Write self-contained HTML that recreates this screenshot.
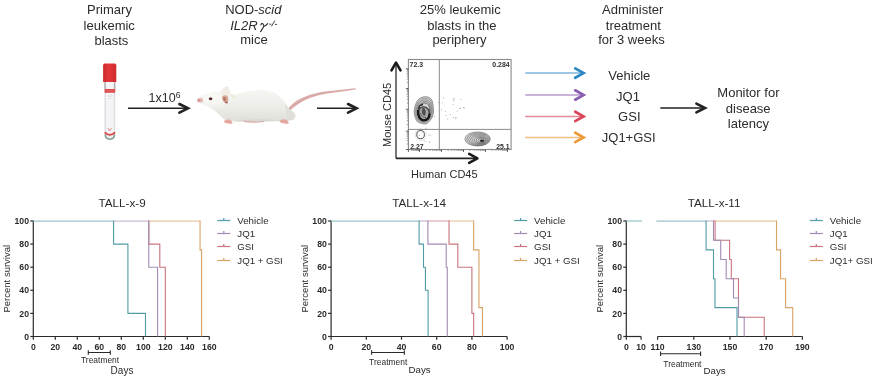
<!DOCTYPE html>
<html><head><meta charset="utf-8"><style>
html,body{margin:0;padding:0;background:#fff;}
svg{display:block;will-change:transform;}
text{font-family:"Liberation Sans",sans-serif;fill:#2b2b2b;}
</style></head><body>
<svg width="875" height="378" viewBox="0 0 875 378">
<rect width="875" height="378" fill="#fff"/>
<text x="109.5" y="14.3" font-size="13" text-anchor="middle" >Primary</text>
<text x="109.2" y="30.0" font-size="13" text-anchor="middle" >leukemic</text>
<text x="111.4" y="44.6" font-size="13" text-anchor="middle" >blasts</text>
<text x="460.3" y="14.0" font-size="13" text-anchor="middle" >25% leukemic</text>
<text x="461.9" y="29.6" font-size="13" text-anchor="middle" >blasts in the</text>
<text x="459.5" y="43.8" font-size="13" text-anchor="middle" >periphery</text>
<text x="632.7" y="14.3" font-size="13" text-anchor="middle" >Administer</text>
<text x="633.3" y="29.8" font-size="13" text-anchor="middle" >treatment</text>
<text x="631.5" y="44.3" font-size="13" text-anchor="middle" >for 3 weeks</text>
<text x="629.3" y="80.2" font-size="13" text-anchor="middle" >Vehicle</text>
<text x="628" y="101" font-size="13" text-anchor="middle" >JQ1</text>
<text x="629.3" y="121.4" font-size="13" text-anchor="middle" >GSI</text>
<text x="628.7" y="141.7" font-size="13" text-anchor="middle" >JQ1+GSI</text>
<text x="748.4" y="97.0" font-size="13" text-anchor="middle" >Monitor for</text>
<text x="748.2" y="112.6" font-size="13" text-anchor="middle" >disease</text>
<text x="748.4" y="128.0" font-size="13" text-anchor="middle" >latency</text>
<text x="253.3" y="14.3" font-size="13" text-anchor="middle" >NOD-<tspan font-style="italic">scid</tspan></text>
<text x="230.2" y="29.8" font-size="13" text-anchor="start" font-style="italic">IL2R</text>
<path d="M260.9,24.9 C261.5,22.8 263.2,23.0 263.7,25.4 C264.0,26.6 265.0,26.3 267.7,23.6 M264.0,25.9 C262.9,28.0 261.6,30.0 260.6,31.6" fill="none" stroke="#2b2b2b" stroke-width="1.15" stroke-linecap="round"/>
<path d="M269.3,24.2 H271.3 M271.5,26.3 L274.9,20.6 M275.0,24.4 H277.0" fill="none" stroke="#2b2b2b" stroke-width="0.9"/>
<text x="254" y="44.3" font-size="13" text-anchor="middle" >mice</text>
<text x="148.6" y="101.8" font-size="12.5" text-anchor="start" >1x10<tspan font-size="8.6" dy="-4.2">6</tspan></text>
<line x1="128" y1="108.3" x2="187.0" y2="108.3" stroke="#222" stroke-width="1.6"/>
<polyline points="179.4,104.0 188.0,108.3 179.4,112.6" fill="none" stroke="#222" stroke-width="2.6" stroke-linecap="round" stroke-linejoin="miter"/>
<line x1="317" y1="108.3" x2="355.6" y2="108.3" stroke="#222" stroke-width="1.6"/>
<polyline points="348.0,104.0 356.6,108.3 348.0,112.6" fill="none" stroke="#222" stroke-width="2.6" stroke-linecap="round" stroke-linejoin="miter"/>
<line x1="660.3" y1="108" x2="704.0" y2="108" stroke="#222" stroke-width="1.6"/>
<polyline points="696.4,103.7 705.0,108 696.4,112.3" fill="none" stroke="#222" stroke-width="2.6" stroke-linecap="round" stroke-linejoin="miter"/>
<line x1="525.2" y1="73.1" x2="582.6" y2="73.1" stroke="#7fb5da" stroke-width="1.5"/>
<polyline points="575.2,68.39999999999999 583.6,73.1 575.2,77.8" fill="none" stroke="#2b88c4" stroke-width="2.7" stroke-linecap="round" stroke-linejoin="miter"/>
<line x1="525.2" y1="95" x2="582.6" y2="95" stroke="#b79ccf" stroke-width="1.5"/>
<polyline points="575.2,90.3 583.6,95 575.2,99.7" fill="none" stroke="#8a5db0" stroke-width="2.7" stroke-linecap="round" stroke-linejoin="miter"/>
<line x1="525.2" y1="116.4" x2="582.6" y2="116.4" stroke="#e28a96" stroke-width="1.5"/>
<polyline points="575.2,111.7 583.6,116.4 575.2,121.10000000000001" fill="none" stroke="#d9455a" stroke-width="2.7" stroke-linecap="round" stroke-linejoin="miter"/>
<line x1="525.2" y1="137.4" x2="582.6" y2="137.4" stroke="#f2bf86" stroke-width="1.5"/>
<polyline points="575.2,132.70000000000002 583.6,137.4 575.2,142.1" fill="none" stroke="#ef9a3a" stroke-width="2.7" stroke-linecap="round" stroke-linejoin="miter"/>
<text x="122.1" y="207.0" font-size="11.7" text-anchor="middle" >TALL-x-9</text>
<line x1="33.3" y1="220.5" x2="33.3" y2="337.0" stroke="#2a2a2a" stroke-width="1.2"/>
<line x1="30.299999999999997" y1="336.5" x2="33.3" y2="336.5" stroke="#2a2a2a" stroke-width="1.2"/>
<text x="28.999999999999996" y="339.6" font-size="8.7" text-anchor="end" font-weight="bold">0</text>
<line x1="30.299999999999997" y1="313.4" x2="33.3" y2="313.4" stroke="#2a2a2a" stroke-width="1.2"/>
<text x="28.999999999999996" y="316.5" font-size="8.7" text-anchor="end" font-weight="bold">20</text>
<line x1="30.299999999999997" y1="290.3" x2="33.3" y2="290.3" stroke="#2a2a2a" stroke-width="1.2"/>
<text x="28.999999999999996" y="293.40000000000003" font-size="8.7" text-anchor="end" font-weight="bold">40</text>
<line x1="30.299999999999997" y1="267.2" x2="33.3" y2="267.2" stroke="#2a2a2a" stroke-width="1.2"/>
<text x="28.999999999999996" y="270.3" font-size="8.7" text-anchor="end" font-weight="bold">60</text>
<line x1="30.299999999999997" y1="244.1" x2="33.3" y2="244.1" stroke="#2a2a2a" stroke-width="1.2"/>
<text x="28.999999999999996" y="247.2" font-size="8.7" text-anchor="end" font-weight="bold">80</text>
<line x1="30.299999999999997" y1="221.0" x2="33.3" y2="221.0" stroke="#2a2a2a" stroke-width="1.2"/>
<text x="28.999999999999996" y="224.1" font-size="8.7" text-anchor="end" font-weight="bold">100</text>
<text x="0" y="0" font-size="9.5" text-anchor="middle" transform="translate(9.999999999999996,278.7) rotate(-90)">Percent survival</text>
<line x1="33.3" y1="336.5" x2="209.3" y2="336.5" stroke="#2a2a2a" stroke-width="1.2"/>
<line x1="33.3" y1="336.5" x2="33.3" y2="339.7" stroke="#2a2a2a" stroke-width="1.2"/>
<text x="33.3" y="349.8" font-size="8.7" text-anchor="middle" font-weight="bold">0</text>
<line x1="55.3" y1="336.5" x2="55.3" y2="339.7" stroke="#2a2a2a" stroke-width="1.2"/>
<text x="55.3" y="349.8" font-size="8.7" text-anchor="middle" font-weight="bold">20</text>
<line x1="77.3" y1="336.5" x2="77.3" y2="339.7" stroke="#2a2a2a" stroke-width="1.2"/>
<text x="77.3" y="349.8" font-size="8.7" text-anchor="middle" font-weight="bold">40</text>
<line x1="99.3" y1="336.5" x2="99.3" y2="339.7" stroke="#2a2a2a" stroke-width="1.2"/>
<text x="99.3" y="349.8" font-size="8.7" text-anchor="middle" font-weight="bold">60</text>
<line x1="121.3" y1="336.5" x2="121.3" y2="339.7" stroke="#2a2a2a" stroke-width="1.2"/>
<text x="121.3" y="349.8" font-size="8.7" text-anchor="middle" font-weight="bold">80</text>
<line x1="143.3" y1="336.5" x2="143.3" y2="339.7" stroke="#2a2a2a" stroke-width="1.2"/>
<text x="143.3" y="349.8" font-size="8.7" text-anchor="middle" font-weight="bold">100</text>
<line x1="165.3" y1="336.5" x2="165.3" y2="339.7" stroke="#2a2a2a" stroke-width="1.2"/>
<text x="165.3" y="349.8" font-size="8.7" text-anchor="middle" font-weight="bold">120</text>
<line x1="187.3" y1="336.5" x2="187.3" y2="339.7" stroke="#2a2a2a" stroke-width="1.2"/>
<text x="187.3" y="349.8" font-size="8.7" text-anchor="middle" font-weight="bold">140</text>
<line x1="209.3" y1="336.5" x2="209.3" y2="339.7" stroke="#2a2a2a" stroke-width="1.2"/>
<text x="209.3" y="349.8" font-size="8.7" text-anchor="middle" font-weight="bold">160</text>
<line x1="148.80" y1="221.0" x2="200.06" y2="221.0" stroke="#e8c9a5" stroke-width="1.25"/>
<path d="M200.06,220.54 L200.06,249.88 L201.60,249.88 L201.60,336.50" fill="none" stroke="#d9a365" stroke-width="1.1" stroke-linejoin="miter"/>
<line x1="148.80" y1="221.0" x2="148.80" y2="221.0" stroke="#dfaeb3" stroke-width="1.25"/>
<path d="M148.80,220.54 L148.80,244.10 L159.80,244.10 L159.80,267.20 L165.30,267.20 L165.30,336.50" fill="none" stroke="#c9747d" stroke-width="1.1" stroke-linejoin="miter"/>
<line x1="113.60" y1="221.0" x2="148.80" y2="221.0" stroke="#c9bbd2" stroke-width="1.25"/>
<path d="M148.80,220.54 L148.80,267.20 L157.60,267.20 L157.60,336.50" fill="none" stroke="#a28bb2" stroke-width="1.1" stroke-linejoin="miter"/>
<line x1="33.30" y1="221.0" x2="113.60" y2="221.0" stroke="#9ac5cb" stroke-width="1.25"/>
<path d="M113.60,220.54 L113.60,244.10 L127.90,244.10 L127.90,313.40 L145.50,313.40 L145.50,336.50" fill="none" stroke="#519ca6" stroke-width="1.1" stroke-linejoin="miter"/>
<line x1="217.3" y1="220.5" x2="230.3" y2="220.5" stroke="#519ca6" stroke-width="1.2"/>
<line x1="223.8" y1="217.9" x2="223.8" y2="220.5" stroke="#519ca6" stroke-width="1.2"/>
<text x="237.3" y="223.6" font-size="9.7" text-anchor="start" >Vehicle</text>
<line x1="217.3" y1="233.5" x2="230.3" y2="233.5" stroke="#a28bb2" stroke-width="1.2"/>
<line x1="223.8" y1="230.9" x2="223.8" y2="233.5" stroke="#a28bb2" stroke-width="1.2"/>
<text x="237.3" y="236.95" font-size="9.7" text-anchor="start" >JQ1</text>
<line x1="217.3" y1="246.5" x2="230.3" y2="246.5" stroke="#c9747d" stroke-width="1.2"/>
<line x1="223.8" y1="243.9" x2="223.8" y2="246.5" stroke="#c9747d" stroke-width="1.2"/>
<text x="237.3" y="250.29999999999998" font-size="9.7" text-anchor="start" >GSI</text>
<line x1="217.3" y1="260.5" x2="230.3" y2="260.5" stroke="#d9a365" stroke-width="1.2"/>
<line x1="223.8" y1="257.9" x2="223.8" y2="260.5" stroke="#d9a365" stroke-width="1.2"/>
<text x="237.3" y="263.65" font-size="9.7" text-anchor="start" >JQ1 + GSI</text>
<path d="M88.30000000000001,350.2 V354.8 M88.30000000000001,352.5 H110.3 M110.3,350.2 V354.8" fill="none" stroke="#2a2a2a" stroke-width="1.1"/>
<text x="81" y="362.9" font-size="8.45" text-anchor="start" >Treatment</text>
<text x="110.6" y="373.5" font-size="10" text-anchor="start" >Days</text>
<text x="419.1" y="207.0" font-size="11.7" text-anchor="middle" >TALL-x-14</text>
<line x1="331.1" y1="220.5" x2="331.1" y2="337.0" stroke="#2a2a2a" stroke-width="1.2"/>
<line x1="328.1" y1="336.5" x2="331.1" y2="336.5" stroke="#2a2a2a" stroke-width="1.2"/>
<text x="326.8" y="339.6" font-size="8.7" text-anchor="end" font-weight="bold">0</text>
<line x1="328.1" y1="313.4" x2="331.1" y2="313.4" stroke="#2a2a2a" stroke-width="1.2"/>
<text x="326.8" y="316.5" font-size="8.7" text-anchor="end" font-weight="bold">20</text>
<line x1="328.1" y1="290.3" x2="331.1" y2="290.3" stroke="#2a2a2a" stroke-width="1.2"/>
<text x="326.8" y="293.40000000000003" font-size="8.7" text-anchor="end" font-weight="bold">40</text>
<line x1="328.1" y1="267.2" x2="331.1" y2="267.2" stroke="#2a2a2a" stroke-width="1.2"/>
<text x="326.8" y="270.3" font-size="8.7" text-anchor="end" font-weight="bold">60</text>
<line x1="328.1" y1="244.1" x2="331.1" y2="244.1" stroke="#2a2a2a" stroke-width="1.2"/>
<text x="326.8" y="247.2" font-size="8.7" text-anchor="end" font-weight="bold">80</text>
<line x1="328.1" y1="221.0" x2="331.1" y2="221.0" stroke="#2a2a2a" stroke-width="1.2"/>
<text x="326.8" y="224.1" font-size="8.7" text-anchor="end" font-weight="bold">100</text>
<text x="0" y="0" font-size="9.5" text-anchor="middle" transform="translate(307.8,278.7) rotate(-90)">Percent survival</text>
<line x1="331.1" y1="336.5" x2="507.1" y2="336.5" stroke="#2a2a2a" stroke-width="1.2"/>
<line x1="331.1" y1="336.5" x2="331.1" y2="339.7" stroke="#2a2a2a" stroke-width="1.2"/>
<text x="331.1" y="349.8" font-size="8.7" text-anchor="middle" font-weight="bold">0</text>
<line x1="366.3" y1="336.5" x2="366.3" y2="339.7" stroke="#2a2a2a" stroke-width="1.2"/>
<text x="366.3" y="349.8" font-size="8.7" text-anchor="middle" font-weight="bold">20</text>
<line x1="401.5" y1="336.5" x2="401.5" y2="339.7" stroke="#2a2a2a" stroke-width="1.2"/>
<text x="401.5" y="349.8" font-size="8.7" text-anchor="middle" font-weight="bold">40</text>
<line x1="436.70000000000005" y1="336.5" x2="436.70000000000005" y2="339.7" stroke="#2a2a2a" stroke-width="1.2"/>
<text x="436.70000000000005" y="349.8" font-size="8.7" text-anchor="middle" font-weight="bold">60</text>
<line x1="471.90000000000003" y1="336.5" x2="471.90000000000003" y2="339.7" stroke="#2a2a2a" stroke-width="1.2"/>
<text x="471.90000000000003" y="349.8" font-size="8.7" text-anchor="middle" font-weight="bold">80</text>
<line x1="507.1" y1="336.5" x2="507.1" y2="339.7" stroke="#2a2a2a" stroke-width="1.2"/>
<text x="507.1" y="349.8" font-size="8.7" text-anchor="middle" font-weight="bold">100</text>
<line x1="449.02" y1="221.0" x2="473.66" y2="221.0" stroke="#e8c9a5" stroke-width="1.25"/>
<path d="M473.66,220.54 L473.66,249.88 L478.94,249.88 L478.94,307.62 L482.46,307.62 L482.46,336.50" fill="none" stroke="#d9a365" stroke-width="1.1" stroke-linejoin="miter"/>
<line x1="427.90" y1="221.0" x2="449.02" y2="221.0" stroke="#dfaeb3" stroke-width="1.25"/>
<path d="M449.02,220.54 L449.02,244.10 L457.82,244.10 L457.82,267.20 L471.90,267.20 L471.90,313.40 L473.66,313.40 L473.66,336.50" fill="none" stroke="#c9747d" stroke-width="1.1" stroke-linejoin="miter"/>
<line x1="419.10" y1="221.0" x2="427.90" y2="221.0" stroke="#c9bbd2" stroke-width="1.25"/>
<path d="M427.90,220.54 L427.90,244.10 L446.20,244.10 L446.20,267.20 L447.26,267.20 L447.26,336.50" fill="none" stroke="#a28bb2" stroke-width="1.1" stroke-linejoin="miter"/>
<line x1="331.10" y1="221.0" x2="419.10" y2="221.0" stroke="#9ac5cb" stroke-width="1.25"/>
<path d="M419.10,220.54 L419.10,244.10 L423.50,244.10 L423.50,267.20 L425.44,267.20 L425.44,290.30 L428.08,290.30 L428.08,336.50" fill="none" stroke="#519ca6" stroke-width="1.1" stroke-linejoin="miter"/>
<line x1="514.1" y1="220.5" x2="527.1" y2="220.5" stroke="#519ca6" stroke-width="1.2"/>
<line x1="520.6" y1="217.9" x2="520.6" y2="220.5" stroke="#519ca6" stroke-width="1.2"/>
<text x="534.1" y="223.6" font-size="9.7" text-anchor="start" >Vehicle</text>
<line x1="514.1" y1="233.5" x2="527.1" y2="233.5" stroke="#a28bb2" stroke-width="1.2"/>
<line x1="520.6" y1="230.9" x2="520.6" y2="233.5" stroke="#a28bb2" stroke-width="1.2"/>
<text x="534.1" y="236.95" font-size="9.7" text-anchor="start" >JQ1</text>
<line x1="514.1" y1="246.5" x2="527.1" y2="246.5" stroke="#c9747d" stroke-width="1.2"/>
<line x1="520.6" y1="243.9" x2="520.6" y2="246.5" stroke="#c9747d" stroke-width="1.2"/>
<text x="534.1" y="250.29999999999998" font-size="9.7" text-anchor="start" >GSI</text>
<line x1="514.1" y1="260.5" x2="527.1" y2="260.5" stroke="#d9a365" stroke-width="1.2"/>
<line x1="520.6" y1="257.9" x2="520.6" y2="260.5" stroke="#d9a365" stroke-width="1.2"/>
<text x="534.1" y="263.65" font-size="9.7" text-anchor="start" >JQ1 + GSI</text>
<path d="M371.58000000000004,350.2 V354.8 M371.58000000000004,352.5 H404.31600000000003 M404.31600000000003,350.2 V354.8" fill="none" stroke="#2a2a2a" stroke-width="1.1"/>
<text x="369.1" y="364.6" font-size="8.45" text-anchor="start" >Treatment</text>
<text x="408.5" y="373.3" font-size="9.7" text-anchor="start" >Days</text>
<text x="714.1" y="207.0" font-size="11.7" text-anchor="middle" >TALL-x-11</text>
<line x1="626.3" y1="220.5" x2="626.3" y2="337.0" stroke="#2a2a2a" stroke-width="1.2"/>
<line x1="623.3" y1="336.5" x2="626.3" y2="336.5" stroke="#2a2a2a" stroke-width="1.2"/>
<text x="622.0" y="339.6" font-size="8.7" text-anchor="end" font-weight="bold">0</text>
<line x1="623.3" y1="313.4" x2="626.3" y2="313.4" stroke="#2a2a2a" stroke-width="1.2"/>
<text x="622.0" y="316.5" font-size="8.7" text-anchor="end" font-weight="bold">20</text>
<line x1="623.3" y1="290.3" x2="626.3" y2="290.3" stroke="#2a2a2a" stroke-width="1.2"/>
<text x="622.0" y="293.40000000000003" font-size="8.7" text-anchor="end" font-weight="bold">40</text>
<line x1="623.3" y1="267.2" x2="626.3" y2="267.2" stroke="#2a2a2a" stroke-width="1.2"/>
<text x="622.0" y="270.3" font-size="8.7" text-anchor="end" font-weight="bold">60</text>
<line x1="623.3" y1="244.1" x2="626.3" y2="244.1" stroke="#2a2a2a" stroke-width="1.2"/>
<text x="622.0" y="247.2" font-size="8.7" text-anchor="end" font-weight="bold">80</text>
<line x1="623.3" y1="221.0" x2="626.3" y2="221.0" stroke="#2a2a2a" stroke-width="1.2"/>
<text x="622.0" y="224.1" font-size="8.7" text-anchor="end" font-weight="bold">100</text>
<text x="0" y="0" font-size="9.5" text-anchor="middle" transform="translate(603.0,278.7) rotate(-90)">Percent survival</text>
<line x1="626.3" y1="336.5" x2="641.1" y2="336.5" stroke="#2a2a2a" stroke-width="1.2"/>
<line x1="657.6" y1="336.5" x2="802.4" y2="336.5" stroke="#2a2a2a" stroke-width="1.2"/>
<line x1="626.3" y1="336.5" x2="626.3" y2="339.7" stroke="#2a2a2a" stroke-width="1.2"/>
<text x="626.3" y="349.8" font-size="8.7" text-anchor="middle" font-weight="bold">0</text>
<line x1="641.1" y1="336.5" x2="641.1" y2="339.7" stroke="#2a2a2a" stroke-width="1.2"/>
<text x="641.1" y="349.8" font-size="8.7" text-anchor="middle" font-weight="bold">10</text>
<line x1="657.6" y1="336.5" x2="657.6" y2="339.7" stroke="#2a2a2a" stroke-width="1.2"/>
<text x="657.6" y="349.8" font-size="8.7" text-anchor="middle" font-weight="bold">110</text>
<line x1="693.8" y1="336.5" x2="693.8" y2="339.7" stroke="#2a2a2a" stroke-width="1.2"/>
<text x="693.8" y="349.8" font-size="8.7" text-anchor="middle" font-weight="bold">130</text>
<line x1="730" y1="336.5" x2="730" y2="339.7" stroke="#2a2a2a" stroke-width="1.2"/>
<text x="730" y="349.8" font-size="8.7" text-anchor="middle" font-weight="bold">150</text>
<line x1="766.2" y1="336.5" x2="766.2" y2="339.7" stroke="#2a2a2a" stroke-width="1.2"/>
<text x="766.2" y="349.8" font-size="8.7" text-anchor="middle" font-weight="bold">170</text>
<line x1="802.4" y1="336.5" x2="802.4" y2="339.7" stroke="#2a2a2a" stroke-width="1.2"/>
<text x="802.4" y="349.8" font-size="8.7" text-anchor="middle" font-weight="bold">190</text>
<line x1="715.10" y1="221.0" x2="776.50" y2="221.0" stroke="#e8c9a5" stroke-width="1.25"/>
<path d="M776.50,220.54 L776.50,249.88 L780.60,249.88 L780.60,278.75 L785.60,278.75 L785.60,307.62 L792.70,307.62 L792.70,336.50" fill="none" stroke="#d9a365" stroke-width="1.1" stroke-linejoin="miter"/>
<line x1="713.50" y1="221.0" x2="715.10" y2="221.0" stroke="#dfaeb3" stroke-width="1.25"/>
<path d="M715.10,220.54 L715.10,240.25 L729.60,240.25 L729.60,259.50 L731.30,259.50 L731.30,278.75 L738.50,278.75 L738.50,317.25 L764.20,317.25 L764.20,336.50" fill="none" stroke="#c9747d" stroke-width="1.1" stroke-linejoin="miter"/>
<line x1="706.10" y1="221.0" x2="713.50" y2="221.0" stroke="#c9bbd2" stroke-width="1.25"/>
<path d="M713.50,220.54 L713.50,240.25 L720.70,240.25 L720.70,259.50 L726.20,259.50 L726.20,278.75 L733.50,278.75 L733.50,298.00 L738.50,298.00 L738.50,317.25 L744.20,317.25 L744.20,336.50" fill="none" stroke="#a28bb2" stroke-width="1.1" stroke-linejoin="miter"/>
<line x1="656.40" y1="221.0" x2="706.10" y2="221.0" stroke="#9ac5cb" stroke-width="1.25"/>
<path d="M706.10,220.54 L706.10,249.88 L713.50,249.88 L713.50,278.75 L715.00,278.75 L715.00,307.62 L737.00,307.62 L737.00,336.50" fill="none" stroke="#519ca6" stroke-width="1.1" stroke-linejoin="miter"/>
<line x1="626.30" y1="221.0" x2="642.10" y2="221.0" stroke="#9ac5cb" stroke-width="1.25"/>
<line x1="809.8" y1="220.5" x2="822.8" y2="220.5" stroke="#519ca6" stroke-width="1.2"/>
<line x1="816.3" y1="217.9" x2="816.3" y2="220.5" stroke="#519ca6" stroke-width="1.2"/>
<text x="829.8" y="223.6" font-size="9.7" text-anchor="start" >Vehicle</text>
<line x1="809.8" y1="233.5" x2="822.8" y2="233.5" stroke="#a28bb2" stroke-width="1.2"/>
<line x1="816.3" y1="230.9" x2="816.3" y2="233.5" stroke="#a28bb2" stroke-width="1.2"/>
<text x="829.8" y="236.95" font-size="9.7" text-anchor="start" >JQ1</text>
<line x1="809.8" y1="246.5" x2="822.8" y2="246.5" stroke="#c9747d" stroke-width="1.2"/>
<line x1="816.3" y1="243.9" x2="816.3" y2="246.5" stroke="#c9747d" stroke-width="1.2"/>
<text x="829.8" y="250.29999999999998" font-size="9.7" text-anchor="start" >GSI</text>
<line x1="809.8" y1="260.5" x2="822.8" y2="260.5" stroke="#d9a365" stroke-width="1.2"/>
<line x1="816.3" y1="257.9" x2="816.3" y2="260.5" stroke="#d9a365" stroke-width="1.2"/>
<text x="829.8" y="263.65" font-size="9.7" text-anchor="start" >JQ1+ GSI</text>
<path d="M660.6,351.5 V356.1 M660.6,353.8 H700.6 M700.6,351.5 V356.1" fill="none" stroke="#2a2a2a" stroke-width="1.1"/>
<text x="663.3" y="366.9" font-size="8.45" text-anchor="start" >Treatment</text>
<text x="703.5" y="373.5" font-size="9.7" text-anchor="start" >Days</text>
<defs>
<linearGradient id="capg" x1="0" x2="1" y1="0" y2="0"><stop offset="0" stop-color="#cc2a2e"/><stop offset="0.4" stop-color="#e2393b"/><stop offset="1" stop-color="#d02a2e"/></linearGradient>
<linearGradient id="bodyg" x1="0" x2="1" y1="0" y2="0"><stop offset="0" stop-color="#d2d0d6"/><stop offset="0.2" stop-color="#f6f5f8"/><stop offset="0.8" stop-color="#f3f2f5"/><stop offset="1" stop-color="#d6d4d9"/></linearGradient>
</defs>
<path d="M104.6,82 V135 Q104.6,139.6 109.9,139.6 Q115.2,139.6 115.2,135 V82 Z" fill="url(#bodyg)"/>
<path d="M105.2,134.5 Q105.4,139.2 109.9,139.2 Q114.4,139.2 114.6,134.5" fill="#e8ecea" stroke="#7f9c90" stroke-width="1.5"/>
<path d="M104.9,132.2 Q106,134.6 109.9,134.8 Q113.8,134.6 114.9,132.2" fill="none" stroke="#d9484a" stroke-width="1.7"/>
<line x1="105" y1="82" x2="105" y2="89" stroke="#888" stroke-width="0.8"/>
<line x1="114.8" y1="82" x2="114.8" y2="89" stroke="#888" stroke-width="0.8"/>
<rect x="104.6" y="89.1" width="10.6" height="3.6" fill="#dc3a3c"/>
<line x1="105" y1="90.9" x2="114.8" y2="90.9" stroke="#f0a8a8" stroke-width="0.5"/>
<path d="M108,128.2 L109.6,131 L111.4,128.2" fill="none" stroke="#e07a7a" stroke-width="0.9"/>
<line x1="108" y1="96" x2="112" y2="96" stroke="#bbb" stroke-width="0.5"/>
<line x1="108.5" y1="98.5" x2="111" y2="98.5" stroke="#bbb" stroke-width="0.5"/>
<path d="M103.1,81.9 V65.2 Q103.1,63.6 104.8,63.6 H114.6 Q116.3,63.6 116.3,65.2 V81.9 Z" fill="url(#capg)"/>
<defs>
<linearGradient id="mbody" x1="0" x2="0" y1="0" y2="1"><stop offset="0" stop-color="#f7f7f4"/><stop offset="0.5" stop-color="#efefeb"/><stop offset="1" stop-color="#dfdfda"/></linearGradient>
<radialGradient id="mhead" cx="0.3" cy="0.35" r="0.6"><stop offset="0" stop-color="#fafaf7"/><stop offset="1" stop-color="#fafaf7" stop-opacity="0"/></radialGradient>
</defs>
<path d="M286.5,110.5 C291,104.5 296,100.5 301.5,98.2 C307,95.8 312,93.9 317,92.9 C323,91.8 328,91.2 333,90.8 C340,90 348,89 355.5,88.3 C356.2,88.6 355.8,89.2 355,89.4 C347,90.6 340,91.8 333,92.8 C327,93.6 322,94.4 317.5,95.6 C311,97.5 306,99.6 302,101.8 C297,104.6 292,108.5 288.5,112 Z" fill="#d9aaa8"/>
<path d="M197.4,100.2 C199,96.5 203,94.5 207,93.8 C212,92.6 216,91.6 220.6,91.2 C222.5,89.5 224.5,86.8 226.5,86.4 C228.6,86.6 229.6,88.4 229.8,90.5 C231,93 232.5,94.5 234.3,95.1 C238,94 245,91.8 252,90.6 C258,89.8 267,89.6 274.4,92.8 C278,94.8 282,98 286.6,105 C288.5,109 291,110.5 293.6,111.8 C295.2,113.5 295.6,115 295.4,116.5 C294.6,119 293,120 291,120.3 C286,121 282,121.2 278,121.3 C265,121.6 250,121.6 238,121.4 C233,121.3 229,121.2 226,120.6 C222,117.5 218,113 212.9,109.4 C208,106.5 204,104.6 202.1,104 C199.5,102.8 197.6,101.6 197.4,100.2 Z" fill="url(#mbody)"/>
<path d="M199,100 C203,95 212,92 222,92 C232,94 238,98 236,106 C232,111 220,112 212,109 C205,106 200,103 199,100 Z" fill="url(#mhead)"/>
<path d="M284,103 C289,109 293,111 295.4,116.5 C294.5,119.5 291,120.4 286,120.8 C287.5,114 286.5,108 284,103 Z" fill="#dddcd7" opacity="0.8"/>
<path d="M234,121.3 C245,118.5 265,118.5 282,120.8 C265,121.8 248,121.8 234,121.3 Z" fill="#d8d6d0"/>
<path d="M244,121.4 C250,122.4 258,122.2 264,121.5" fill="none" stroke="#d9a8a2" stroke-width="1.1"/>
<path d="M220.8,93 C221.5,90 223.8,87 226.5,86.3 C228.8,86.5 229.8,88.5 229.7,91.5 C229.6,95 229,98.5 227.5,100.5 C225,100.5 222.5,97.5 220.8,93 Z" fill="#f1ede6"/>
<path d="M221.9,97.2 C222.8,95.2 225.5,94.6 227.4,96 C228.8,97.8 228.6,101.2 227.2,103.4 C224.8,103.8 222.4,101 221.9,97.2 Z" fill="#d9a898"/>
<path d="M223,98 C223.6,96.8 225,96.6 225.8,97.6 C226.4,98.8 226,100.6 225.2,101.6 C224,101.4 223.2,99.8 223,98 Z" fill="#b9786a"/>
<ellipse cx="226.6" cy="102.4" rx="1.1" ry="0.9" fill="#9a6050"/>
<path d="M230,93.5 C232.5,94.5 235,96 236.5,98 C234,99 231.5,98 230,93.5 Z" fill="#ece6d0" opacity="0.8"/>
<ellipse cx="200.2" cy="100.2" rx="3" ry="2.3" fill="#e6b8b8"/><ellipse cx="198.8" cy="100.4" rx="1.4" ry="1.3" fill="#d89a9c"/>
<ellipse cx="210.6" cy="98.7" rx="1.8" ry="1.5" fill="#5a3030"/>
<path d="M223.6,121.5 C225,123.5 229,124 232.5,123.5 C232.5,121.5 230.5,119.5 228,119.5 C226,119.8 224.5,120.5 223.6,121.5 Z" fill="#e6a79e"/>
<path d="M279.3,121 C281,123.6 285.5,124 288.8,123.4 C288.6,121 286.5,119.2 283.5,119.2 C281.5,119.5 280,120.2 279.3,121 Z" fill="#e6a79e"/>
<path d="M396,158.4 V62.5" stroke="#555" stroke-width="1.6" fill="none"/>
<path d="M396,158.4 H476" stroke="#222" stroke-width="1.6" fill="none"/>
<polyline points="391.5,70.4 396,62.6 400.5,70.4" fill="none" stroke="#1a1a1a" stroke-width="2.6" stroke-linecap="round" stroke-linejoin="round"/>
<polyline points="469.2,153.9 477.4,158.4 469.2,162.9" fill="none" stroke="#1a1a1a" stroke-width="2.6" stroke-linecap="round" stroke-linejoin="round"/>
<rect x="408.4" y="59.5" width="102.7" height="90" fill="none" stroke="#8a8a8a" stroke-width="1.1"/>
<line x1="439.3" y1="59.5" x2="439.3" y2="149.5" stroke="#8a8a8a" stroke-width="1"/>
<line x1="408.4" y1="129.4" x2="511.1" y2="129.4" stroke="#8a8a8a" stroke-width="1"/>
<line x1="405.9" y1="149.5" x2="408.4" y2="149.5" stroke="#555" stroke-width="0.9"/>
<line x1="406.8" y1="143.96" x2="408.4" y2="143.96" stroke="#777" stroke-width="0.7"/>
<line x1="406.8" y1="140.72" x2="408.4" y2="140.72" stroke="#777" stroke-width="0.7"/>
<line x1="406.8" y1="138.42" x2="408.4" y2="138.42" stroke="#777" stroke-width="0.7"/>
<line x1="406.8" y1="136.64" x2="408.4" y2="136.64" stroke="#777" stroke-width="0.7"/>
<line x1="406.8" y1="135.18" x2="408.4" y2="135.18" stroke="#777" stroke-width="0.7"/>
<line x1="406.8" y1="133.95" x2="408.4" y2="133.95" stroke="#777" stroke-width="0.7"/>
<line x1="406.8" y1="132.88" x2="408.4" y2="132.88" stroke="#777" stroke-width="0.7"/>
<line x1="406.8" y1="131.94" x2="408.4" y2="131.94" stroke="#777" stroke-width="0.7"/>
<line x1="405.9" y1="131.1" x2="408.4" y2="131.1" stroke="#555" stroke-width="0.9"/>
<line x1="406.8" y1="124.54" x2="408.4" y2="124.54" stroke="#777" stroke-width="0.7"/>
<line x1="406.8" y1="120.70" x2="408.4" y2="120.70" stroke="#777" stroke-width="0.7"/>
<line x1="406.8" y1="117.98" x2="408.4" y2="117.98" stroke="#777" stroke-width="0.7"/>
<line x1="406.8" y1="115.86" x2="408.4" y2="115.86" stroke="#777" stroke-width="0.7"/>
<line x1="406.8" y1="114.14" x2="408.4" y2="114.14" stroke="#777" stroke-width="0.7"/>
<line x1="406.8" y1="112.68" x2="408.4" y2="112.68" stroke="#777" stroke-width="0.7"/>
<line x1="406.8" y1="111.41" x2="408.4" y2="111.41" stroke="#777" stroke-width="0.7"/>
<line x1="406.8" y1="110.30" x2="408.4" y2="110.30" stroke="#777" stroke-width="0.7"/>
<line x1="405.9" y1="109.3" x2="408.4" y2="109.3" stroke="#555" stroke-width="0.9"/>
<line x1="406.8" y1="103.04" x2="408.4" y2="103.04" stroke="#777" stroke-width="0.7"/>
<line x1="406.8" y1="99.38" x2="408.4" y2="99.38" stroke="#777" stroke-width="0.7"/>
<line x1="406.8" y1="96.78" x2="408.4" y2="96.78" stroke="#777" stroke-width="0.7"/>
<line x1="406.8" y1="94.76" x2="408.4" y2="94.76" stroke="#777" stroke-width="0.7"/>
<line x1="406.8" y1="93.11" x2="408.4" y2="93.11" stroke="#777" stroke-width="0.7"/>
<line x1="406.8" y1="91.72" x2="408.4" y2="91.72" stroke="#777" stroke-width="0.7"/>
<line x1="406.8" y1="90.52" x2="408.4" y2="90.52" stroke="#777" stroke-width="0.7"/>
<line x1="406.8" y1="89.45" x2="408.4" y2="89.45" stroke="#777" stroke-width="0.7"/>
<line x1="405.9" y1="88.5" x2="408.4" y2="88.5" stroke="#555" stroke-width="0.9"/>
<line x1="406.8" y1="82.57" x2="408.4" y2="82.57" stroke="#777" stroke-width="0.7"/>
<line x1="406.8" y1="79.10" x2="408.4" y2="79.10" stroke="#777" stroke-width="0.7"/>
<line x1="406.8" y1="76.64" x2="408.4" y2="76.64" stroke="#777" stroke-width="0.7"/>
<line x1="406.8" y1="74.73" x2="408.4" y2="74.73" stroke="#777" stroke-width="0.7"/>
<line x1="406.8" y1="73.17" x2="408.4" y2="73.17" stroke="#777" stroke-width="0.7"/>
<line x1="406.8" y1="71.85" x2="408.4" y2="71.85" stroke="#777" stroke-width="0.7"/>
<line x1="406.8" y1="70.71" x2="408.4" y2="70.71" stroke="#777" stroke-width="0.7"/>
<line x1="406.8" y1="69.70" x2="408.4" y2="69.70" stroke="#777" stroke-width="0.7"/>
<line x1="405.9" y1="68.8" x2="408.4" y2="68.8" stroke="#555" stroke-width="0.9"/>
<line x1="408.4" y1="149.5" x2="408.4" y2="152" stroke="#555" stroke-width="0.9"/>
<line x1="411.74" y1="149.5" x2="411.74" y2="151" stroke="#777" stroke-width="0.7"/>
<line x1="413.70" y1="149.5" x2="413.70" y2="151" stroke="#777" stroke-width="0.7"/>
<line x1="415.08" y1="149.5" x2="415.08" y2="151" stroke="#777" stroke-width="0.7"/>
<line x1="416.16" y1="149.5" x2="416.16" y2="151" stroke="#777" stroke-width="0.7"/>
<line x1="417.04" y1="149.5" x2="417.04" y2="151" stroke="#777" stroke-width="0.7"/>
<line x1="417.78" y1="149.5" x2="417.78" y2="151" stroke="#777" stroke-width="0.7"/>
<line x1="418.42" y1="149.5" x2="418.42" y2="151" stroke="#777" stroke-width="0.7"/>
<line x1="418.99" y1="149.5" x2="418.99" y2="151" stroke="#777" stroke-width="0.7"/>
<line x1="419.5" y1="149.5" x2="419.5" y2="152" stroke="#555" stroke-width="0.9"/>
<line x1="426.12" y1="149.5" x2="426.12" y2="151" stroke="#777" stroke-width="0.7"/>
<line x1="430.00" y1="149.5" x2="430.00" y2="151" stroke="#777" stroke-width="0.7"/>
<line x1="432.75" y1="149.5" x2="432.75" y2="151" stroke="#777" stroke-width="0.7"/>
<line x1="434.88" y1="149.5" x2="434.88" y2="151" stroke="#777" stroke-width="0.7"/>
<line x1="436.62" y1="149.5" x2="436.62" y2="151" stroke="#777" stroke-width="0.7"/>
<line x1="438.09" y1="149.5" x2="438.09" y2="151" stroke="#777" stroke-width="0.7"/>
<line x1="439.37" y1="149.5" x2="439.37" y2="151" stroke="#777" stroke-width="0.7"/>
<line x1="440.49" y1="149.5" x2="440.49" y2="151" stroke="#777" stroke-width="0.7"/>
<line x1="441.5" y1="149.5" x2="441.5" y2="152" stroke="#555" stroke-width="0.9"/>
<line x1="448.12" y1="149.5" x2="448.12" y2="151" stroke="#777" stroke-width="0.7"/>
<line x1="452.00" y1="149.5" x2="452.00" y2="151" stroke="#777" stroke-width="0.7"/>
<line x1="454.75" y1="149.5" x2="454.75" y2="151" stroke="#777" stroke-width="0.7"/>
<line x1="456.88" y1="149.5" x2="456.88" y2="151" stroke="#777" stroke-width="0.7"/>
<line x1="458.62" y1="149.5" x2="458.62" y2="151" stroke="#777" stroke-width="0.7"/>
<line x1="460.09" y1="149.5" x2="460.09" y2="151" stroke="#777" stroke-width="0.7"/>
<line x1="461.37" y1="149.5" x2="461.37" y2="151" stroke="#777" stroke-width="0.7"/>
<line x1="462.49" y1="149.5" x2="462.49" y2="151" stroke="#777" stroke-width="0.7"/>
<line x1="463.5" y1="149.5" x2="463.5" y2="152" stroke="#555" stroke-width="0.9"/>
<line x1="470.12" y1="149.5" x2="470.12" y2="151" stroke="#777" stroke-width="0.7"/>
<line x1="474.00" y1="149.5" x2="474.00" y2="151" stroke="#777" stroke-width="0.7"/>
<line x1="476.75" y1="149.5" x2="476.75" y2="151" stroke="#777" stroke-width="0.7"/>
<line x1="478.88" y1="149.5" x2="478.88" y2="151" stroke="#777" stroke-width="0.7"/>
<line x1="480.62" y1="149.5" x2="480.62" y2="151" stroke="#777" stroke-width="0.7"/>
<line x1="482.09" y1="149.5" x2="482.09" y2="151" stroke="#777" stroke-width="0.7"/>
<line x1="483.37" y1="149.5" x2="483.37" y2="151" stroke="#777" stroke-width="0.7"/>
<line x1="484.49" y1="149.5" x2="484.49" y2="151" stroke="#777" stroke-width="0.7"/>
<line x1="485.5" y1="149.5" x2="485.5" y2="152" stroke="#555" stroke-width="0.9"/>
<line x1="492.12" y1="149.5" x2="492.12" y2="151" stroke="#777" stroke-width="0.7"/>
<line x1="496.00" y1="149.5" x2="496.00" y2="151" stroke="#777" stroke-width="0.7"/>
<line x1="498.75" y1="149.5" x2="498.75" y2="151" stroke="#777" stroke-width="0.7"/>
<line x1="500.88" y1="149.5" x2="500.88" y2="151" stroke="#777" stroke-width="0.7"/>
<line x1="502.62" y1="149.5" x2="502.62" y2="151" stroke="#777" stroke-width="0.7"/>
<line x1="504.09" y1="149.5" x2="504.09" y2="151" stroke="#777" stroke-width="0.7"/>
<line x1="505.37" y1="149.5" x2="505.37" y2="151" stroke="#777" stroke-width="0.7"/>
<line x1="506.49" y1="149.5" x2="506.49" y2="151" stroke="#777" stroke-width="0.7"/>
<line x1="507.5" y1="149.5" x2="507.5" y2="152" stroke="#555" stroke-width="0.9"/>
<text x="409.6" y="66.9" font-size="6.9" font-weight="bold" fill="#333">72.3</text>
<text x="509.6" y="66.9" font-size="6.9" font-weight="bold" fill="#333" text-anchor="end">0.284</text>
<text x="410.2" y="148.7" font-size="6.9" font-weight="bold" fill="#333">2.27</text>
<text x="509.6" y="148.7" font-size="6.9" font-weight="bold" fill="#333" text-anchor="end">25.1</text>
<path d="M424.20,96.80 C426.43,96.48 429.40,97.12 430.90,98.70 C432.40,100.28 432.88,103.45 433.20,106.30 C433.52,109.15 433.83,112.95 432.80,115.80 C431.77,118.65 428.97,122.17 427.00,123.40 C425.03,124.63 422.73,123.67 421.00,123.20 C419.27,122.73 417.73,122.63 416.60,120.60 C415.47,118.57 414.05,114.33 414.20,111.00 C414.35,107.67 415.83,102.97 417.50,100.60 C419.17,98.23 421.97,97.12 424.20,96.80Z" fill="#d4d4d4" stroke="none"/>
<path d="M424.20,96.80 C426.43,96.48 429.40,97.12 430.90,98.70 C432.40,100.28 432.88,103.45 433.20,106.30 C433.52,109.15 433.83,112.95 432.80,115.80 C431.77,118.65 428.97,122.17 427.00,123.40 C425.03,124.63 422.73,123.67 421.00,123.20 C419.27,122.73 417.73,122.63 416.60,120.60 C415.47,118.57 414.05,114.33 414.20,111.00 C414.35,107.67 415.83,102.97 417.50,100.60 C419.17,98.23 421.97,97.12 424.20,96.80Z" fill="none" stroke="#6a6a6a" stroke-width="0.7"/>
<path d="M424.16,98.37 C426.17,98.09 428.84,98.66 430.19,100.08 C431.54,101.50 431.97,104.36 432.26,106.92 C432.55,109.48 432.83,112.91 431.90,115.47 C430.97,118.03 428.45,121.20 426.68,122.31 C424.91,123.42 422.84,122.55 421.28,122.13 C419.72,121.71 418.34,121.62 417.32,119.79 C416.30,117.96 415.02,114.15 415.16,111.15 C415.29,108.15 416.63,103.92 418.13,101.79 C419.63,99.66 422.15,98.66 424.16,98.37Z" fill="none" stroke="#7a7a7a" stroke-width="0.6"/>
<path d="M424.12,99.94 C425.91,99.69 428.28,100.19 429.48,101.46 C430.68,102.73 431.07,105.26 431.32,107.54 C431.57,109.82 431.83,112.86 431.00,115.14 C430.17,117.42 427.93,120.23 426.36,121.22 C424.79,122.21 422.95,121.43 421.56,121.06 C420.17,120.69 418.95,120.61 418.04,118.98 C417.13,117.35 416.00,113.97 416.12,111.30 C416.24,108.63 417.43,104.87 418.76,102.98 C420.09,101.09 422.33,100.19 424.12,99.94Z" fill="none" stroke="#606060" stroke-width="0.6"/>
<path d="M424.08,101.51 C425.64,101.29 427.72,101.73 428.77,102.84 C429.82,103.95 430.16,106.16 430.38,108.16 C430.60,110.16 430.82,112.81 430.10,114.81 C429.38,116.81 427.42,119.27 426.04,120.13 C424.66,120.99 423.05,120.32 421.84,119.99 C420.63,119.66 419.55,119.59 418.76,118.17 C417.97,116.75 416.97,113.78 417.08,111.45 C417.19,109.12 418.22,105.83 419.39,104.17 C420.56,102.51 422.52,101.73 424.08,101.51Z" fill="none" stroke="#555" stroke-width="0.6"/>
<path d="M424.04,103.08 C425.38,102.89 427.16,103.27 428.06,104.22 C428.96,105.17 429.25,107.07 429.44,108.78 C429.63,110.49 429.82,112.77 429.20,114.48 C428.58,116.19 426.90,118.30 425.72,119.04 C424.54,119.78 423.16,119.20 422.12,118.92 C421.08,118.64 420.16,118.58 419.48,117.36 C418.80,116.14 417.95,113.60 418.04,111.60 C418.13,109.60 419.02,106.78 420.02,105.36 C421.02,103.94 422.70,103.27 424.04,103.08Z" fill="none" stroke="#444" stroke-width="0.7"/>
<ellipse cx="423.7" cy="113.3" rx="5.6" ry="6.6" fill="#a8a8a8" stroke="#333" stroke-width="1.1"/>
<path d="M418.1,110 C417.8,117 420.5,120.4 424,120.4 C427.5,120.4 429.7,117.5 429.5,113.5" fill="none" stroke="#1a1a1a" stroke-width="2.4"/>
<path d="M418.5,109 C419,105.5 421,104.5 423,104.8" fill="none" stroke="#2a2a2a" stroke-width="1.5"/>
<path d="M422.5,108 C421,111 422,115 424.5,116 C426.5,114 426,110 424,107.5 Z" fill="#505050"/>
<path d="M420.5,113 C421,116 423,118 426,117.5" fill="none" stroke="#666" stroke-width="1"/>
<ellipse cx="420.6" cy="134.6" rx="3.8" ry="4.1" fill="none" stroke="#3a3a3a" stroke-width="0.9"/>
<ellipse cx="420.6" cy="134.6" rx="5.4" ry="5.8" fill="none" stroke="#999" stroke-width="0.5" stroke-dasharray="0.9 0.9"/>
<ellipse cx="477.60" cy="139.00" rx="12.70" ry="7.00" fill="none" stroke="#5a5a5a" stroke-width="0.65"/>
<ellipse cx="478.15" cy="139.22" rx="11.35" ry="6.30" fill="none" stroke="#5a5a5a" stroke-width="0.65"/>
<ellipse cx="478.70" cy="139.44" rx="10.00" ry="5.60" fill="none" stroke="#5a5a5a" stroke-width="0.65"/>
<ellipse cx="479.25" cy="139.66" rx="8.65" ry="4.90" fill="none" stroke="#5a5a5a" stroke-width="0.65"/>
<ellipse cx="479.80" cy="139.88" rx="7.30" ry="4.20" fill="none" stroke="#5a5a5a" stroke-width="0.65"/>
<ellipse cx="480.35" cy="140.10" rx="5.95" ry="3.50" fill="none" stroke="#5a5a5a" stroke-width="0.65"/>
<ellipse cx="480.90" cy="140.32" rx="4.60" ry="2.80" fill="none" stroke="#333" stroke-width="0.65"/>
<ellipse cx="481.45" cy="140.54" rx="3.25" ry="2.10" fill="none" stroke="#333" stroke-width="0.65"/>
<ellipse cx="477.6" cy="139" rx="12.2" ry="6.6" fill="#9a9a9a" opacity="0.4"/>
<ellipse cx="482" cy="140.8" rx="2.2" ry="1.3" fill="#2a2a2a"/>
<rect x="441.1" y="109.5" width="0.8" height="0.8" fill="#888"/>
<rect x="445.1" y="110.9" width="0.8" height="0.8" fill="#888"/>
<rect x="452.8" y="98.5" width="0.8" height="0.8" fill="#888"/>
<rect x="434.4" y="116.3" width="0.8" height="0.8" fill="#888"/>
<rect x="441.8" y="102.4" width="0.8" height="0.8" fill="#888"/>
<rect x="463.9" y="107.8" width="0.8" height="0.8" fill="#888"/>
<rect x="459.1" y="108.0" width="0.8" height="0.8" fill="#888"/>
<rect x="453.2" y="100.5" width="0.8" height="0.8" fill="#888"/>
<rect x="453.0" y="117.0" width="0.8" height="0.8" fill="#888"/>
<rect x="449.7" y="114.0" width="0.8" height="0.8" fill="#888"/>
<rect x="454.1" y="98.5" width="0.8" height="0.8" fill="#888"/>
<rect x="456.7" y="110.6" width="0.8" height="0.8" fill="#888"/>
<rect x="443.0" y="97.7" width="0.8" height="0.8" fill="#888"/>
<rect x="460.0" y="107.9" width="0.8" height="0.8" fill="#888"/>
<rect x="455.6" y="117.2" width="0.8" height="0.8" fill="#888"/>
<rect x="455.4" y="118.2" width="0.8" height="0.8" fill="#888"/>
<rect x="445.8" y="115.4" width="0.8" height="0.8" fill="#888"/>
<rect x="447.3" y="118.5" width="0.8" height="0.8" fill="#888"/>
<rect x="460.4" y="99.2" width="0.8" height="0.8" fill="#888"/>
<rect x="438.1" y="102.0" width="0.8" height="0.8" fill="#888"/>
<rect x="463.0" y="107.0" width="0.8" height="0.8" fill="#888"/>
<rect x="452.8" y="103.9" width="0.8" height="0.8" fill="#888"/>
<rect x="422.1" y="131.6" width="0.8" height="0.8" fill="#999"/>
<rect x="419.0" y="134.9" width="0.8" height="0.8" fill="#999"/>
<rect x="423.7" y="140.4" width="0.8" height="0.8" fill="#999"/>
<rect x="425.6" y="140.8" width="0.8" height="0.8" fill="#999"/>
<rect x="429.1" y="141.8" width="0.8" height="0.8" fill="#999"/>
<rect x="425.4" y="127.8" width="0.8" height="0.8" fill="#999"/>
<rect x="429.2" y="141.4" width="0.8" height="0.8" fill="#999"/>
<rect x="430.1" y="134.7" width="0.8" height="0.8" fill="#999"/>
<rect x="426.3" y="128.6" width="0.8" height="0.8" fill="#999"/>
<rect x="428.6" y="134.8" width="0.8" height="0.8" fill="#999"/>
<text x="0" y="0" font-size="11" text-anchor="middle" transform="translate(390.5,114.9) rotate(-90)">Mouse CD45</text>
<text x="444.3" y="177.9" font-size="11" text-anchor="middle">Human CD45</text>
</svg></body></html>
